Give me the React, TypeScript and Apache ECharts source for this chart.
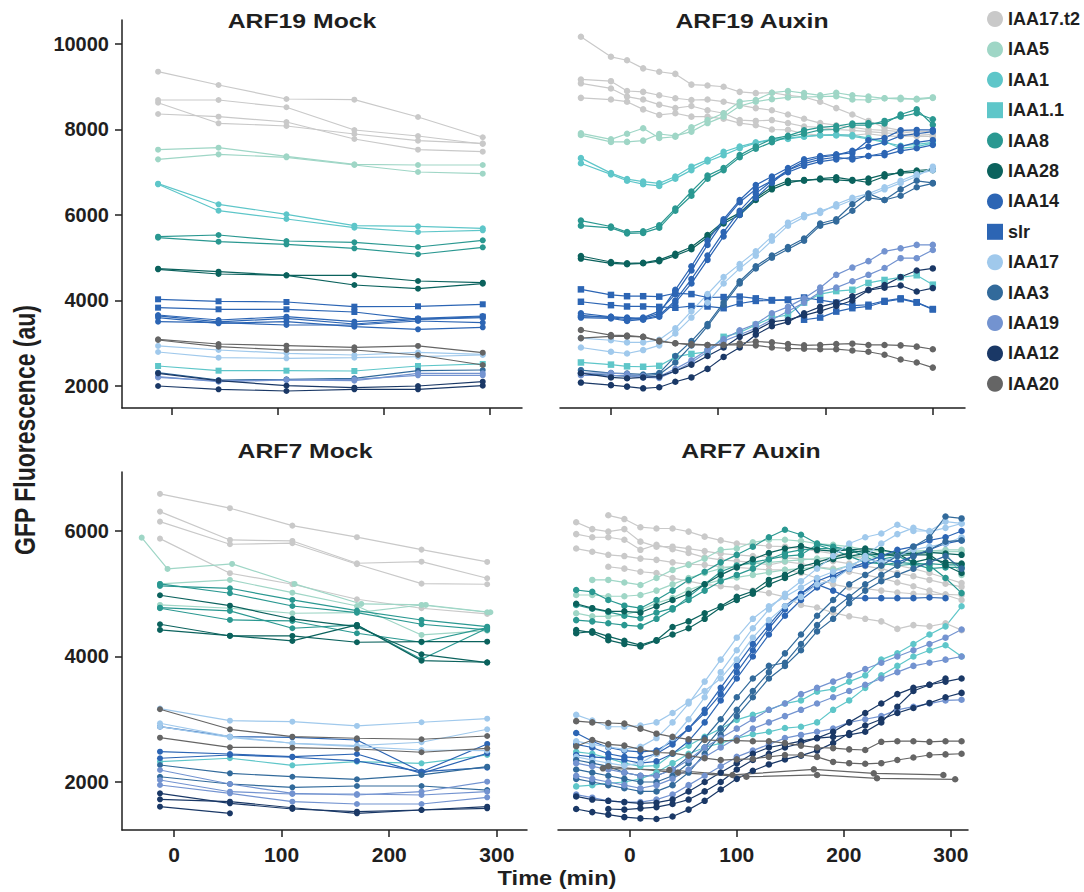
import React, { useEffect, useRef } from "react";
import * as echarts from "echarts";

// ---------- legend / genes ----------
const GENES = ["IAA17.t2", "IAA5", "IAA1", "IAA1.1", "IAA8", "IAA28", "IAA14", "slr", "IAA17", "IAA3", "IAA19", "IAA12", "IAA20"];
const COLORS = ["#c9c9c9", "#9fd6c6", "#5ec6c9", "#5ec6c9", "#2a9891", "#0b625d", "#2c65b4", "#2c65b4", "#a0c9ec", "#326a9b", "#7393d0", "#1a3866", "#656565"];
const SQUARE_GENES = ["IAA1.1", "slr"];

// ---------- axis ticks ----------
const X_TICKS = [0, 100, 200, 300];
const Y_TICKS_ARF19 = [2000, 4000, 6000, 8000, 10000];
const Y_TICKS_ARF7 = [2000, 4000, 6000];

// ---------- time points (min) ----------
const T_MOCK19 = [-13, 44, 108, 172, 232, 293];
const T_MOCK7 = [-13, 52, 110, 170, 230, 291];
const T_MOCK7_IAA5_EARLY = [-30, -6, 54, 112, 174, 234, 294];
const T_MOCK7_IAA12_SHORT = [-13, 52];
const T_AUX19 = [-28, 0, 15, 30, 45, 60, 75, 90, 105, 120, 135, 150, 165, 180, 195, 210, 225, 240, 255, 270, 285, 300];
const T_AUX7 = [-50, -35, -20, -5, 10, 25, 40, 55, 70, 85, 100, 115, 130, 145, 160, 175, 190, 205, 220, 235, 250, 265, 280, 295, 310];
const T_AUX7_IAA20_SPARSE_A = [-25, 37, 96, 172, 228, 293];
const T_AUX7_IAA20_SPARSE_B = [-20, 45, 109, 175, 231, 304];

// ---------- ARF19 Mock ----------
const M19_IAA17T2 = [
  [9352, 9041, 8713, 8697, 8292, 7818],
  [8690, 8690, 8520, 7988, 7848, 7660],
  [8626, 8145, 8082, 7894, 7738, 7677],
  [8362, 8299, 8175, 7777, 7527, 7480],
];
const M19_IAA5 = [
  [7527, 7574, 7373, 7186, 7169, 7169],
  [7301, 7418, 7349, 7169, 7005, 6966],
];
const M19_IAA1 = [
  [6732, 6250, 6016, 5749, 5735, 5689],
  [6718, 6100, 5906, 5703, 5602, 5642],
];
const M19_IAA1_1 = [[2468, 2358, 2358, 2351, 2468, 2515]];
const M19_IAA8 = [
  [5492, 5532, 5392, 5361, 5251, 5408],
  [5469, 5375, 5314, 5221, 5081, 5244],
];
const M19_IAA28 = [
  [4744, 4674, 4589, 4589, 4456, 4416],
  [4729, 4620, 4589, 4362, 4276, 4393],
];
const M19_IAA14 = [
  [3661, 3544, 3621, 3504, 3583, 3637],
  [3598, 3466, 3504, 3387, 3326, 3373],
  [3504, 3481, 3427, 3427, 3520, 3481],
  [3640, 3500, 3580, 3450, 3560, 3600],
];
const M19_SLR = [
  [4028, 3981, 3965, 3855, 3864, 3911],
  [3832, 3794, 3794, 3731, 3560, 3621],
];
const M19_IAA17 = [
  [2936, 2842, 2765, 2725, 2788, 2741],
  [2795, 2662, 2648, 2662, 2685, 2725],
];
const M19_IAA3 = [[2311, 2140, 2156, 2179, 2358, 2374]];
const M19_IAA19 = [
  [2218, 2101, 2140, 2124, 2297, 2297],
  [2200, 2120, 2140, 2156, 2250, 2250],
];
const M19_IAA12 = [
  [2000, 1922, 1883, 1922, 1922, 2007],
  [2297, 2124, 2007, 1960, 2000, 2101],
];
const M19_IAA20 = [
  [3092, 2982, 2943, 2905, 2936, 2779],
  [3076, 2920, 2842, 2842, 2725, 2491],
];

// ---------- ARF7 Mock ----------
const M7_IAA17T2 = [
  [6591, 6363, 6085, 5901, 5703, 5507],
  [6309, 5857, 5841, 5486, 5511, 5247],
  [6149, 5789, 5805, 5470, 5161, 5151],
  [5878, 5327, 5151, 4912, 4769, 4678],
];
const M7_IAA5 = [
  { t: T_MOCK7_IAA5_EARLY, v: [5894, 5395, 5475, 5156, 4837, 4821, 4705] },
  [4821, 4769, 4689, 4699, 4821, 4705],
  [5156, 5220, 5017, 4805, 4343, 4412],
];
const M7_IAA1 = [[2324, 2378, 2266, 2324, 2298, 2430]];
const M7_IAA8 = [
  [5156, 5008, 4805, 4699, 4514, 4423],
  [4769, 4582, 4566, 4370, 4227, 4459],
  [5124, 5087, 4901, 4731, 4582, 4475],
  [4778, 4726, 4450, 4503, 3956, 4450],
];
const M7_IAA28 = [
  [4976, 4810, 4598, 4475, 4035, 3902],
  [4514, 4327, 4327, 4227, 4236, 4236],
  [4423, 4332, 4248, 4503, 3934, 3908],
];
const M7_IAA14 = [
  [2881, 2722, 2712, 2669, 2164, 2606],
  [2483, 2446, 2403, 2446, 2138, 2457],
  [2378, 2430, 2394, 2335, 2164, 2228],
];
const M7_IAA17 = [
  [3169, 2977, 2961, 2893, 2952, 3009],
  [2936, 2722, 2617, 2579, 2633, 2840],
  [2881, 2712, 2617, 2563, 2510, 2499],
];
const M7_IAA3 = [
  [2271, 2138, 2084, 2043, 2112, 2244],
  [2084, 1968, 1915, 1936, 1936, 1872],
];
const M7_IAA19 = [
  [2032, 1845, 1809, 1809, 1793, 1845],
  [2191, 1968, 1820, 1793, 1845, 2005],
  [1952, 1820, 1686, 1649, 1649, 1756],
];
const M7_IAA12 = [
  [1820, 1660, 1570, 1527, 1554, 1581],
  { t: T_MOCK7_IAA12_SHORT, v: [1606, 1501] },
  [1724, 1686, 1590, 1501, 1554, 1606],
];
const M7_IAA20 = [
  [3159, 2840, 2722, 2697, 2681, 2733],
  [2706, 2553, 2547, 2526, 2474, 2537],
];

// ---------- ARF19 Auxin ----------
const A19_IAA17T2 = [
  [10170, 9700, 9620, 9430, 9350, 9300, 9050, 9030, 9000, 8880, 8850, 8860, 8800, 8760, 8650, 8500, 8350, 8200, 8050, 7980, 7950, 7950],
  [9170, 9130, 8900, 8880, 8800, 8730, 8690, 8700, 8650, 8570, 8500, 8450, 8350, 8250, 8150, 8100, 8050, 8000, 7980, 7950, 7900, 7880],
  [9080, 8960, 8770, 8700, 8580, 8500, 8550, 8450, 8380, 8220, 8200, 8220, 8150, 8070, 8050, 8000, 7980, 7950, 7920, 7900, 7850, 7830],
  [8740, 8700, 8650, 8470, 8340, 8380, 8300, 8300, 8250, 8150, 8100, 8000, 7990, 7900, 7870, 7880, 7860, 7900, 7850, 7840, 7850, 7840],
];
const A19_IAA5 = [
  [7910, 7770, 7900, 8030, 7800, 7830, 8050, 8220, 8380, 8650, 8690, 8860, 8900, 8850, 8800, 8860, 8800, 8770, 8730, 8710, 8720, 8750],
  [7870, 7710, 7710, 7740, 7895, 7850, 7950, 8150, 8300, 8550, 8650, 8710, 8750, 8760, 8770, 8780, 8700, 8690, 8730, 8740, 8700, 8740],
];
const A19_IAA1 = [
  [7330, 6980, 6840, 6780, 6740, 6900, 7130, 7290, 7480, 7600, 7700, 7770, 7800, 7840, 7870, 7880, 7870, 7800, 7720, 7560, 7600, 7680],
  [7210, 6950, 6800, 6720, 6680, 6850, 7050, 7250, 7400, 7560, 7680, 7760, 7780, 7830, 7860, 7860, 7840, 7780, 7700, 7620, 7650, 7700],
];
const A19_IAA1_1 = [
  [2550, 2500, 2460, 2450, 2470, 2680, 2750, 2800, 3150, 3250, 3430, 3600, 3660, 3950, 4150, 4220, 4250, 4410, 4480, 4540, 4590, 4370],
];
const A19_IAA8 = [
  [5870, 5730, 5600, 5620, 5760, 6150, 6550, 6920, 7100, 7400, 7600, 7780, 7850, 7980, 8050, 8080, 8140, 8150, 8140, 8350, 8470, 8110],
  [5750, 5700, 5570, 5580, 5700, 6100, 6450, 6850, 7050, 7350, 7550, 7700, 7830, 7900, 7990, 8000, 8100, 8100, 8200, 8300, 8380, 8240],
];
const A19_IAA28 = [
  [5040, 4900, 4870, 4880, 4950, 5090, 5250, 5530, 5850, 6050, 6400, 6650, 6800, 6800, 6850, 6880, 6820, 6760, 6900, 7010, 7040, 7070],
  [4980, 4870, 4850, 4870, 4920, 5050, 5200, 5480, 5800, 6000, 6350, 6600, 6750, 6820, 6830, 6820, 6800, 6850, 6950, 6980, 7000, 7050],
];
const A19_IAA14 = [
  [3700, 3620, 3600, 3580, 3700, 4250, 4800, 5400, 5900, 6350, 6700, 6900, 7100, 7300, 7380, 7420, 7450, 7750, 7800, 7980, 7990, 7990],
  [3650, 3600, 3550, 3600, 3750, 4150, 4700, 5300, 5850, 6300, 6600, 6800, 7050, 7250, 7350, 7400, 7500, 7600, 7700, 7850, 7900, 7950],
  [3600, 3580, 3520, 3560, 3650, 4000, 4500, 5050, 5600, 6100, 6500, 6800, 7000, 7150, 7250, 7300, 7350, 7380, 7400, 7500, 7560, 7640],
  [3620, 3620, 3580, 3550, 3620, 3950, 4400, 4950, 5500, 6000, 6400, 6750, 7050, 7200, 7300, 7350, 7300, 7380, 7450, 7600, 7700, 7750],
];
const A19_SLR = [
  [4260, 4130, 4100, 4100, 4090, 4170, 4150, 4070, 4080, 4090, 4050, 4010, 4020, 3550, 3600, 3740, 3820, 3860, 3970, 4030, 3950, 3790],
  [3970, 3890, 3860, 3860, 3850, 3830, 3870, 3860, 3820, 3930, 3990, 4000, 4010, 4070, 4010, 3950, 3880, 3900, 3990, 4050, 3960, 3800],
];
const A19_IAA17 = [
  [2900, 2800, 2760, 2840, 2950, 3230, 3600, 3950, 4400, 4750, 5050, 5400, 5750, 5950, 6100, 6200, 6350, 6450, 6600, 6750, 6900, 7130],
  [3120, 3070, 3020, 3020, 3080, 3350, 3750, 4150, 4550, 4850, 5150, 5500, 5820, 6000, 6050, 6250, 6400, 6500, 6650, 6800, 6950, 7050],
];
const A19_IAA3 = [
  [2370, 2300, 2290, 2270, 2300, 2700, 3050, 3450, 3950, 4450, 4800, 5050, 5250, 5450, 5800, 5900, 6250, 6500, 6350, 6600, 6800, 6750],
  [2300, 2250, 2230, 2240, 2270, 2550, 2950, 3400, 3900, 4400, 4750, 5000, 5200, 5400, 5750, 5850, 6100, 6400, 6350, 6450, 6650, 6740],
];
const A19_IAA19 = [
  [2300, 2300, 2280, 2230, 2220, 2400, 2600, 2850, 3100, 3300, 3450, 3700, 3850, 4050, 4300, 4600, 4770, 4920, 5150, 5220, 5300, 5300],
  [2250, 2250, 2230, 2200, 2190, 2350, 2550, 2800, 3050, 3200, 3350, 3550, 3750, 3950, 4200, 4300, 4450, 4600, 4760, 4990, 4990, 5180],
];
const A19_IAA12 = [
  [2080, 2020, 1985, 1945, 1970, 2100, 2200, 2400, 2680, 2900, 3200, 3400, 3500, 3700, 3850, 3950, 4100, 4250, 4360, 4550, 4700, 4750],
  [2300, 2200, 2180, 2200, 2220, 2350, 2500, 2700, 2900, 3150, 3300, 3500, 3550, 3650, 3750, 3870, 4000, 4240, 4300, 4350, 4210, 4290],
];
const A19_IAA20 = [
  [3310, 3190, 3180, 3150, 3040, 3000, 2960, 2960, 2960, 3000, 3040, 3020, 2980, 2950, 2960, 2980, 2990, 2960, 2960, 2950, 2920, 2860],
  [3120, 3160, 3160, 3150, 3060, 3000, 2980, 2960, 2960, 2960, 2950, 2900, 2880, 2870, 2860, 2860, 2830, 2800, 2730, 2620, 2550, 2430],
];

// ---------- ARF7 Auxin ----------
const A7_IAA17T2 = [
  [null, null, 6250, 6190, 6060, 6040, 6040, 5990, 5910, 5850, 5800, 5780, 5760, 5750, 5720, 5680, 5640, 5600, 5560, 5500, 5450, 5400, 5330, 5250, 5170],
  [6140, 6030, 5990, 6030, 5830, 5750, 5750, 5720, 5680, 5640, 5620, 5600, 5590, 5570, 5560, 5540, 5520, 5480, 5440, 5400, 5330, 5280, 5220, 5160, 5110],
  [5950, 5900, 5900, 5860, 5700, 5780, 5710, 5650, 5580, 5540, 5520, 5500, 5460, 5510, 5480, 5430, 5400, 5350, 5300, 5250, 5180, 5120, 5050, 4980, 4900],
  [5720, 5670, 5620, 5600, 5560, 5540, 5500, 5470, 5460, 5430, 5420, 5400, 5380, 5380, 5330, 5250, 5150, 5100, 5080, 5050, 5020, 5000, 4990, 4990, 4980],
  [null, null, 5430, 5400, 5350, 5330, 5250, 5200, 5150, 5120, 5100, 5050, 5010, 4950, 4820, 4780, 4700, 4640, 4600, 4560, 4440, 4500, 4480, 4530, 4420],
];
const A7_IAA5 = [
  [null, 5220, 5220, 5180, 5140, 5250, 5380, 5460, 5560, 5700, 5720, 5820, 5860, 5860, 5840, 5800, 5780, 5750, 5700, 5680, 5660, 5680, 5690, 5670, 5670],
  [4980, 4980, 4960, 4960, 4980, 5050, 5150, 5250, 5330, 5400, 5450, 5480, 5500, 5520, 5540, 5560, 5580, 5590, 5600, 5620, 5640, 5660, 5680, 5700, 5700],
  [4690, 4640, 4640, 4660, 4740, 4850, 4930, 5060, 5150, 5220, 5260, 5300, 5340, 5380, 5400, 5420, 5380, 5450, 5550, 5600, 5620, 5640, 5660, 5650, 5300],
];
const A7_IAA1 = [
  [2480, 2450, 2380, 2300, 2250, 2260, 2450, 2580, 2720, 2850, 2990, 3070, 3150, 3250, 3300, 3440, 3480, 3600, 3700, 3950, 4050, 4200, 4350, 4480, 4800],
  [1930, 1950, 1980, 2000, 2050, 2150, 2300, 2450, 2550, 2620, 2700, 2760, 2800, 2860, 2880, 2950, 3150, 3300, 3500, 3700, 3850, 4000, 4100, 4180, 4000],
];
const A7_IAA8 = [
  [5060, 5030, 4900, 4810, 4770, 4900, 5050, 5220, 5350, 5500, 5620, 5750, 5900, 6020, 5940, 5800, 5750, 5700, 5650, 5550, 5600, 5500, 5450, 5250, 5010],
  [4820, 4760, 4710, 4650, 4610, 4700, 4770, 4900, 5050, 5200, 5300, 5400, 5550, 5650, 5700, 5720, 5720, 5700, 5600, 5450, 5500, 5480, 5400, 5420, 5420],
  [4580, 4560, 4530, 4500, 4480, 4600, 4750, 4950, 5150, 5350, 5450, 5500, 5550, 5600, 5620, 5780, 5700, 5600, 5500, 5480, 5450, 5470, 5480, 5460, 5460],
];
const A7_IAA28 = [
  [4370, 4400, 4320, 4250, 4180, 4260, 4470, 4560, 4690, 4800, 4950, 5040, 5220, 5300, 5430, 5500, 5580, 5650, 5690, 5620, 5640, 5500, 5560, 5500, 5480],
  [4420, 4380, 4260, 4200, 4160, 4250, 4350, 4450, 4600, 4780, 4900, 5000, 5150, 5250, 5350, 5450, 5550, 5600, 5640, 5620, 5610, 5620, 5620, 5450, 5330],
  [4840, 4770, 4720, 4720, 4700, 4800, 4900, 5000, 5150, 5300, 5420, 5550, 5650, 5720, 5760, 5700, 5680, 5700, 5720, 5700, 5650, 5640, 5660, 5640, 5620],
];
const A7_IAA14 = [
  [2780, 2650, 2550, 2500, 2480, 2500, 2650, 2850, 3100, 3400, 3750, 4100, 4450, 4750, 5000, 5150, 5050, 4930, 4930, 4930, 4930, 4930, 4940, 4930, null],
  [2430, 2400, 2380, 2350, 2300, 2330, 2450, 2650, 2950, 3300, 3650, 4000, 4350, 4650, 4900, 5100, 5250, 5400, 5500, 5600, 5700, 5750, 5850, 5900, 6000],
  [2600, 2550, 2450, 2400, 2380, 2450, 2600, 2850, 3150, 3500, 3850, 4200, 4500, 4800, 5000, 5200, 5300, 5400, 5450, 5550, 5500, 5600, 5700, 5800, 5850],
];
const A7_IAA17 = [
  [3070, 2980, 2880, 2880, 2900, 2950, 3100, 3280, 3450, 3650, 3950, 4300, 4580, 4800, 4950, 5150, 5220, 5400, 5600, 5800, 5950, 6050, 5990, 6050, 6120],
  [2650, 2600, 2560, 2520, 2560, 2700, 2950, 3250, 3600, 3950, 4300, 4600, 4800, 4950, 5100, 5250, 5350, 5450, 5550, 5500, 5600, 5700, 5750, 5800, 5900],
  [2400, 2350, 2300, 2260, 2300, 2450, 2700, 3000, 3350, 3750, 4100, 4450, 4750, 5000, 5200, 5400, 5600, 5800, 5900, 5960, 6100, 6000, 6000, 6150, 6120],
];
const A7_IAA3 = [
  [2200, 2150, 2100, 2050, 2000, 2000, 2100, 2300, 2550, 2850, 3150, 3450, 3750, 4050, 4350, 4650, 4900, 5150, 5300, 5450, 5600, 5750, 5900, 6230, 6200],
  [2350, 2300, 2250, 2150, 2100, 2100, 2200, 2400, 2700, 3000, 3350, 3650, 3850, 3900, 4200, 4500, 4750, 4950, 5150, 5300, 5450, 5600, 5700, 5830, 5850],
  [2050, 2000, 1950, 1900, 1850, 1850, 1950, 2150, 2450, 2750, 3050, 3350, 3650, 3850, 4100, 4400, 4600, 4850, 5050, 5200, 5300, 5400, 5500, 5600, 5400],
];
const A7_IAA19 = [
  [2300, 2250, 2200, 2150, 2100, 2100, 2200, 2350, 2550, 2700, 2850, 3000, 3150, 3250, 3400, 3500, 3600, 3700, 3800, 3900, 4000, 4100, 4200, 4300, 4430],
  [2100, 2050, 2000, 1950, 1900, 1950, 2050, 2200, 2400, 2550, 2700, 2850, 2950, 3050, 3150, 3250, 3350, 3450, 3550, 3650, 3750, 3850, 3900, 3950, 4000],
  [1800, 1750, 1700, 1680, 1680, 1720, 1800, 1950, 2100, 2250, 2400, 2500, 2600, 2700, 2750, 2800, 2850, 2950, 3000, 3050, 3150, 3200, 3250, 3300, 3310],
];
const A7_IAA12 = [
  [1570, 1520, 1480, 1440, 1420, 1410, 1450, 1560, 1700, 1880, 2050, 2180, 2280, 2360, 2420, 2500, 2620, 2780, 2900, 3000, 3100, 3180, 3260, 3350, 3420],
  [null, null, 1570, 1560, 1580, 1600, 1650, 1720, 1850, 2000, 2200, 2350, 2450, 2550, 2620, 2700, 2720, 2750, 2800, 2950, 3200, 3450, 3550, 3650, null],
  [1770, 1720, 1700, 1680, 1660, 1670, 1720, 1850, 2000, 2150, 2300, 2450, 2550, 2600, 2650, 2700, 2800, 2950, 3100, 3250, 3400, 3500, 3550, 3600, 3650],
];
const A7_IAA20 = [
  [2970, 2950, 2940, 2930, 2850, 2770, 2720, 2680, 2670, 2660, 2660, 2650, 2650, 2620, 2580, 2550, 2540, 2520, 2510, 2640, 2650, 2650, 2640, 2650, 2650],
  [2570, 2670, 2600, 2580, 2520, 2470, 2460, 2420, 2380, 2350, 2360, 2370, 2400, 2430, 2430, 2400, 2320, 2300, 2290, 2300, 2350, 2390, 2430, 2440, 2450],
  { t: T_AUX7_IAA20_SPARSE_A, v: [2218, 2191, 2112, 2202, 2138, 2112] },
  { t: T_AUX7_IAA20_SPARSE_B, v: [2250, 2150, 2084, 2112, 2059, 2043] },
];

type Line = (number | null)[] | { t: number[]; v: (number | null)[] };
type Panel = { title: string; times: number[]; lines: Record<string, Line[]> };

const PANELS: Panel[] = [
  {
    title: "ARF19 Mock", times: T_MOCK19,
    lines: { "IAA17.t2": M19_IAA17T2, IAA5: M19_IAA5, IAA1: M19_IAA1, "IAA1.1": M19_IAA1_1, IAA8: M19_IAA8, IAA28: M19_IAA28, IAA14: M19_IAA14, slr: M19_SLR, IAA17: M19_IAA17, IAA3: M19_IAA3, IAA19: M19_IAA19, IAA12: M19_IAA12, IAA20: M19_IAA20 },
  },
  {
    title: "ARF19 Auxin", times: T_AUX19,
    lines: { "IAA17.t2": A19_IAA17T2, IAA5: A19_IAA5, IAA1: A19_IAA1, "IAA1.1": A19_IAA1_1, IAA8: A19_IAA8, IAA28: A19_IAA28, IAA14: A19_IAA14, slr: A19_SLR, IAA17: A19_IAA17, IAA3: A19_IAA3, IAA19: A19_IAA19, IAA12: A19_IAA12, IAA20: A19_IAA20 },
  },
  {
    title: "ARF7 Mock", times: T_MOCK7,
    lines: { "IAA17.t2": M7_IAA17T2, IAA5: M7_IAA5, IAA1: M7_IAA1, IAA8: M7_IAA8, IAA28: M7_IAA28, IAA14: M7_IAA14, IAA17: M7_IAA17, IAA3: M7_IAA3, IAA19: M7_IAA19, IAA12: M7_IAA12, IAA20: M7_IAA20 },
  },
  {
    title: "ARF7 Auxin", times: T_AUX7,
    lines: { "IAA17.t2": A7_IAA17T2, IAA5: A7_IAA5, IAA1: A7_IAA1, IAA8: A7_IAA8, IAA28: A7_IAA28, IAA14: A7_IAA14, IAA17: A7_IAA17, IAA3: A7_IAA3, IAA19: A7_IAA19, IAA12: A7_IAA12, IAA20: A7_IAA20 },
  },
];

const FONT = '"Liberation Sans", Arial, Helvetica, sans-serif';
const INK = "#1f1f1f";

function buildOption() {
  const grids = [
    { left: 122, top: 20, width: 400, height: 388 },
    { left: 560, top: 20, width: 405, height: 388 },
    { left: 122, top: 472, width: 405, height: 358 },
    { left: 558, top: 472, width: 410, height: 358 },
  ];
  const xRanges = [[-47, 330], [-47.5, 330], [-48.3, 328], [-67, 316]];
  const yRanges = [[1485, 10561], [1485, 10561], [1235, 6940], [1235, 6940]];

  const xAxis = grids.map((_, i) => ({
    type: "value", gridIndex: i, min: xRanges[i][0], max: xRanges[i][1],
    axisLine: { show: true, onZero: false, lineStyle: { color: INK, width: 1.5 } },
    splitLine: { show: false },
    axisTick: { show: true, length: 7, lineStyle: { color: INK, width: 1.5 }, customValues: X_TICKS },
    axisLabel: {
      show: i >= 2, customValues: X_TICKS, margin: 14, color: INK,
      fontFamily: FONT, fontWeight: "bold", fontSize: 21,
      formatter: (v: number) => String(v),
    },
  }));

  const yAxis = grids.map((_, i) => {
    const ticks = i < 2 ? Y_TICKS_ARF19 : Y_TICKS_ARF7;
    const left = i % 2 === 0;
    return {
      type: "value", gridIndex: i, min: yRanges[i][0], max: yRanges[i][1],
      axisLine: { show: left, onZero: false, lineStyle: { color: INK, width: 1.5 } },
      splitLine: { show: false },
      axisTick: { show: left, length: 7, lineStyle: { color: INK, width: 1.5 }, customValues: ticks },
      axisLabel: {
        show: left, customValues: ticks, margin: 13, color: INK,
        fontFamily: FONT, fontWeight: "bold", fontSize: 20,
        formatter: (v: number) => String(v),
      },
    };
  });

  const series: any[] = [];
  PANELS.forEach((panel, p) => {
    GENES.forEach((g, gi) => {
      const lines = panel.lines[g] || [];
      lines.forEach((line) => {
        const t = Array.isArray(line) ? panel.times : line.t;
        const v = Array.isArray(line) ? line : line.v;
        const data = t.map((x, k) => [x, v[k]]).filter((d) => d[1] !== null && d[1] !== undefined);
        series.push({
          type: "line", name: g, xAxisIndex: p, yAxisIndex: p, data,
          symbol: SQUARE_GENES.includes(g) ? "rect" : "circle",
          symbolSize: p % 2 === 0 ? 6 : 6.5,
          showSymbol: true,
          lineStyle: { width: 1.2, color: COLORS[gi] },
          itemStyle: { color: COLORS[gi] },
          emphasis: { disabled: true },
          silent: true,
          animation: false,
        });
      });
    });
  });

  const titleStyle = (text: string, x: number, y: number) => ({
    type: "text", x, y, scaleX: 1.18,
    style: { text, font: `bold 21px ${FONT}`, fill: INK, align: "center", verticalAlign: "middle" },
  });

  return {
    animation: false,
    backgroundColor: "#ffffff",
    grid: grids.map((g) => ({ ...g, containLabel: false, outerBoundsMode: "none" })),
    xAxis, yAxis, series,
    legend: {
      show: true, orient: "vertical", left: 982, top: 5,
      itemWidth: 16, itemHeight: 16, itemGap: 12.4, selectedMode: false,
      data: GENES.map((g) => ({ name: g, icon: SQUARE_GENES.includes(g) ? "rect" : "circle" })),
      textStyle: { fontFamily: FONT, fontWeight: "bold", fontSize: 18, color: INK },
    },
    graphic: [
      titleStyle("ARF19 Mock", 302, 21),
      titleStyle("ARF19 Auxin", 752, 21),
      titleStyle("ARF7 Mock", 305, 451),
      titleStyle("ARF7 Auxin", 751, 451),
      {
        type: "text", x: 557, y: 878, scaleX: 1.18,
        style: { text: "Time (min)", font: `bold 20px ${FONT}`, fill: INK, align: "center", verticalAlign: "middle" },
      },
      {
        type: "text", x: 25, y: 430, rotation: Math.PI / 2, scaleY: 1.3,
        style: { text: "GFP Fluorescence (au)", font: `bold 23px ${FONT}`, fill: INK, align: "center", verticalAlign: "middle" },
      },
    ],
  };
}

export default function App() {
  const ref = useRef<HTMLDivElement>(null);
  useEffect(() => {
    if (!ref.current) return;
    const chart = echarts.init(ref.current, undefined, { renderer: "svg" });
    chart.setOption(buildOption() as any);
    return () => chart.dispose();
  }, []);
  return (
    <div
      ref={ref}
      style={{ position: "fixed", left: 0, top: 0, width: 1084, height: 892, background: "#fff" }}
    />
  );
}
